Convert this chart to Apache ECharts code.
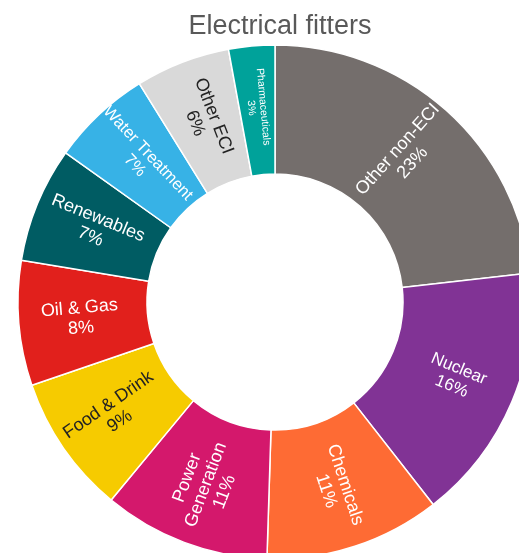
<!DOCTYPE html>
<html>
<head>
<meta charset="utf-8">
<script src="https://cdn.jsdelivr.net/npm/echarts@6/dist/echarts.min.js"></script>
<style>html,body{margin:0;padding:0;background:#fff;}#c{width:519px;height:553px;}</style>
</head>
<body>
<div id="c"></div>
<script>
const categories = ['Other non-ECI','Nuclear','Chemicals','Power Generation','Food & Drink','Oil & Gas','Renewables','Water Treatment','Other ECI','Pharmaceuticals'];
const shares = [23.2, 16.25, 11.05, 10.5, 8.75, 7.85, 7.25, 6.3, 5.95, 2.9];
const shareLabels = ['23%','16%','11%','11%','9%','8%','7%','7%','6%','3%'];
const colors = ['#746E6C','#813395','#FE6B34','#D4186C','#F6CB00','#E1201C','#005C63','#37B2E6','#D9D9D9','#00A29A'];
const labelColors = ['#fff','#fff','#fff','#fff','#222','#fff','#fff','#fff','#222','#fff'];
const labelSizes = [18,17,18,18,18,18,18,16.5,18,10.5];

const chart = echarts.init(document.getElementById('c'));
const data = categories.map((name, i) => ({
  name: name,
  value: shares[i],
  itemStyle: { color: colors[i] },
  label: {
    color: labelColors[i],
    fontSize: labelSizes[i],
    lineHeight: Math.round(labelSizes[i] * 1.12)
  }
}));
chart.setOption({
  animation: false,
  title: {
    text: 'Electrical fitters',
    left: 275,
    top: 8,
    textAlign: 'center',
    textStyle: { fontFamily: 'Liberation Sans, Arial, sans-serif', fontSize: 27, fontWeight: 'normal', color: '#595959' }
  },
  series: [{
    type: 'pie',
    center: [275, 302],
    radius: [128, 257],
    startAngle: 90,
    clockwise: true,
    avoidLabelOverlap: false,
    itemStyle: { borderColor: '#fff', borderWidth: 1.5 },
    label: {
      show: true,
      position: 'inside',
      rotate: 'radial',
      fontFamily: 'Liberation Sans, Arial, sans-serif',
      align: 'center',
      formatter: p => {
        const nm = p.name === 'Power Generation' ? 'Power\nGeneration' : p.name;
        return nm + '\n' + shareLabels[p.dataIndex];
      }
    },
    labelLine: { show: false },
    emphasis: { disabled: true },
    data: data
  }]
});
</script>
</body>
</html>
